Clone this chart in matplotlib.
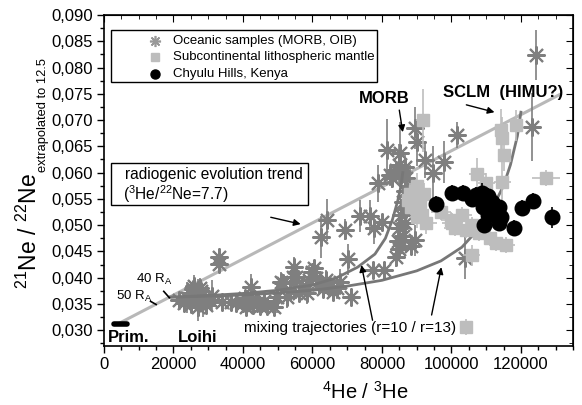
import matplotlib
matplotlib.use("Agg")
import matplotlib.pyplot as plt
from matplotlib.ticker import MultipleLocator, FuncFormatter
from matplotlib.patches import Rectangle

plt.rcParams['font.family'] = ['Liberation Sans', 'DejaVu Sans']
plt.rcParams['mathtext.fontset'] = 'custom'
plt.rcParams['mathtext.rm'] = 'Liberation Sans'
plt.rcParams['mathtext.it'] = 'Liberation Sans:italic'

# ---------------- data ----------------
ocean_x = [21500, 23000, 24000, 25000, 25500, 26000, 26500, 27000, 27500, 28000, 28500, 29000,
           27000, 29500, 30500, 26000, 28000, 25000, 31000, 33000, 33000, 34000, 36500, 38000,
           40000, 41000, 42000, 43000, 44000, 45000, 42500, 46000, 47000, 42200, 40500,
           48900, 49700, 50900, 51500, 52600, 53500, 54300, 55200, 54600, 56000, 57000, 58300,
           59000, 60000, 61000, 62000, 63000, 64000, 65000, 66000, 67000, 68000, 60500, 71000,
           62600, 64300, 69300, 73600, 76600, 77600, 79900, 70100, 77300, 80700,
           84000, 85000, 84500, 86000, 85000, 86500, 85500, 87000, 86000, 87500, 86500, 88000,
           87000, 85500, 86500, 84000, 82200, 78800, 89400, 88500, 83000, 85000,
           81600, 85100, 89400, 90200, 92300, 94600, 98000, 101700, 124400, 123300, 103800]
ocean_y = [0.0358, 0.0352, 0.0362, 0.0370, 0.0378, 0.0365, 0.0372, 0.0358, 0.0380, 0.0368, 0.0355, 0.0362,
           0.0345, 0.0348, 0.0357, 0.0385, 0.0375, 0.0350, 0.0365, 0.0439, 0.0427, 0.0354, 0.0354, 0.0352,
           0.0352, 0.0345, 0.0355, 0.0348, 0.0352, 0.0346, 0.0360, 0.0355, 0.0347, 0.0382, 0.0362,
           0.0344, 0.0363, 0.0391, 0.0390, 0.0363, 0.0375, 0.0401, 0.0401, 0.0420, 0.0370, 0.0385, 0.0370,
           0.0395, 0.0410, 0.0400, 0.0388, 0.0378, 0.0395, 0.0385, 0.0372, 0.0380, 0.0392, 0.0418, 0.0363,
           0.0477, 0.0510, 0.0491, 0.0517, 0.0517, 0.0494, 0.0506, 0.0435, 0.0414, 0.0414,
           0.0440, 0.0455, 0.0470, 0.0480, 0.0495, 0.0505, 0.0520, 0.0530, 0.0545, 0.0555, 0.0565, 0.0575,
           0.0590, 0.0600, 0.0610, 0.0605, 0.0595, 0.0580, 0.0471, 0.0460, 0.0590, 0.0615,
           0.0643, 0.0637, 0.0685, 0.0658, 0.0624, 0.0600, 0.0620, 0.0671, 0.0824, 0.0687, 0.0437]
ocean_yerr = [0.0012, 0.0015, 0.0030, 0.0020, 0.0015, 0.0025, 0.0012, 0.0040, 0.0020, 0.0015, 0.0030, 0.0012,
              0.0020, 0.0015, 0.0012, 0.0020, 0.0015, 0.0012, 0.0030, 0.0012, 0.0012, 0.0012, 0.0012, 0.0012,
              0.0012, 0.0015, 0.0012, 0.0012, 0.0012, 0.0012, 0.0012, 0.0012, 0.0012, 0.0025, 0.0012,
              0.0012, 0.0030, 0.0020, 0.0015, 0.0020, 0.0012, 0.0025, 0.0015, 0.0020, 0.0012, 0.0012, 0.0020,
              0.0030, 0.0015, 0.0020, 0.0012, 0.0012, 0.0020, 0.0012, 0.0012, 0.0020, 0.0025, 0.0015, 0.0015,
              0.0040, 0.0040, 0.0020, 0.0030, 0.0030, 0.0030, 0.0015, 0.0030, 0.0015, 0.0015,
              0.0020, 0.0015, 0.0025, 0.0030, 0.0020, 0.0035, 0.0020, 0.0040, 0.0015, 0.0030, 0.0020, 0.0040,
              0.0030, 0.0025, 0.0030, 0.0015, 0.0020, 0.0035, 0.0030, 0.0015, 0.0020, 0.0040,
              0.0060, 0.0060, 0.0040, 0.0045, 0.0035, 0.0050, 0.0040, 0.0025, 0.0048, 0.0065, 0.0040]

sclm_x = [91700, 114400, 114700, 118700, 115200, 127300, 107500, 110100, 114700, 112900, 115800,
          105800, 104300, 100300, 92800, 90000, 104300, 88000, 89000, 90000, 91000, 88500, 90500,
          92000, 89500, 87500, 91500, 97000, 100000, 103000, 106000, 108000, 101000, 111000]
sclm_y = [0.0700, 0.0681, 0.0666, 0.0690, 0.0633, 0.0590, 0.0597, 0.0580, 0.0582, 0.0466, 0.0462,
          0.0443, 0.0306, 0.0504, 0.0504, 0.0515, 0.0491, 0.0560, 0.0550, 0.0575, 0.0545, 0.0535, 0.0530,
          0.0560, 0.0565, 0.0548, 0.0520, 0.0525, 0.0510, 0.0520, 0.0500, 0.0485, 0.0495, 0.0475]
sclm_yerr = [0.0060, 0.0040, 0.0040, 0.0030, 0.0030, 0.0015, 0.0030, 0.0020, 0.0040, 0.0015, 0.0015,
             0.0020, 0.0015, 0.0020, 0.0020, 0.0020, 0.0015, 0.0020, 0.0015, 0.0025, 0.0015, 0.0015, 0.0015,
             0.0020, 0.0015, 0.0015, 0.0015, 0.0015, 0.0015, 0.0015, 0.0015, 0.0015, 0.0015, 0.0015]
sclm_xerr = [2000, 1500, 1500, 1500, 1500, 4000, 2500, 2500, 2500, 2500, 2500,
             2500, 1000, 3000, 3000, 2000, 3000, 1500, 1500, 1500, 1500, 1500, 1500,
             1500, 1500, 1500, 1500, 3000, 3000, 3000, 3000, 3000, 3000, 3000]

chyulu_x = [95500, 100300, 103200, 107000, 108900, 110500, 111800, 109000, 110500, 113800,
            114400, 113800, 109500, 118000, 120400, 123500, 129000, 106000]
chyulu_y = [0.0540, 0.0561, 0.0561, 0.0558, 0.0561, 0.0555, 0.0545, 0.0534, 0.0520, 0.0535,
            0.0515, 0.0504, 0.0500, 0.0494, 0.0532, 0.0546, 0.0515, 0.0550]
chyulu_yerr = [0.0015, 0.0015, 0.0015, 0.0015, 0.0020, 0.0015, 0.0015, 0.0015, 0.0015, 0.0015,
               0.0015, 0.0015, 0.0015, 0.0015, 0.0015, 0.0015, 0.0020, 0.0015]

radio_x = [4000, 131000]
radio_y = [0.0312, 0.0748]

mix10_x = [19000, 30000, 40000, 50000, 60000, 67000, 73000, 78000, 81000, 83000, 84500, 85500, 86000]
mix10_y = [0.0363, 0.0366, 0.0370, 0.0376, 0.0386, 0.0400, 0.0420, 0.0445, 0.0475, 0.0510, 0.0545, 0.0575, 0.0600]
mix13_x = [19000, 30000, 40000, 50000, 60000, 70000, 80000, 90000, 97000, 103000, 108000, 112000,
           115000, 117000, 119000, 120000]
mix13_y = [0.0363, 0.0365, 0.0367, 0.0371, 0.0376, 0.0384, 0.0395, 0.0413, 0.0432, 0.0458, 0.0494, 0.0535,
           0.0575, 0.0615, 0.0670, 0.0715]

prim_x = [2900, 6600]
prim_y = [0.0311, 0.0311]

x_ticks = [0, 20000, 40000, 60000, 80000, 100000, 120000]
y_ticks = [0.030, 0.035, 0.040, 0.045, 0.050, 0.055, 0.060, 0.065, 0.070, 0.075, 0.080, 0.085, 0.090]

legend_labels = ['Oceanic samples (MORB, OIB)', 'Subcontinental lithospheric mantle', 'Chyulu Hills, Kenya']

# ---------------- figure ----------------
W, H = 582, 405
fig = plt.figure(figsize=(W / 100, H / 100), dpi=100)
AX_L, AX_R, AX_T, AX_B = 104, 573, 15, 346
ax = fig.add_axes([AX_L / W, 1 - AX_B / H, (AX_R - AX_L) / W, (AX_B - AX_T) / H])


def afx(px):
    return (px - AX_L) / (AX_R - AX_L)


def afy(py):
    return (AX_B - py) / (AX_B - AX_T)


OC = '#7f7f7f'
SC = '#bdbdbd'
ast = (8, 2, 0)

ax.plot(radio_x, radio_y, color='#b8b8b8', lw=2.2, zorder=2)
ax.plot(prim_x, prim_y, color='black', lw=4, solid_capstyle='round', zorder=6)

ax.errorbar(ocean_x, ocean_y, yerr=ocean_yerr, fmt='none', ecolor=OC, elinewidth=1.2, capsize=0, zorder=3)
ax.plot(ocean_x, ocean_y, ls='none', marker=ast, ms=13, mew=1.5, color=OC, zorder=3)

ax.plot(mix10_x, mix10_y, color='#777777', lw=2, zorder=4)
ax.plot(mix13_x, mix13_y, color='#777777', lw=2, zorder=4)

ax.errorbar(sclm_x, sclm_y, yerr=sclm_yerr, xerr=sclm_xerr, fmt='none', ecolor=SC, elinewidth=1.2,
            capsize=0, zorder=4)
ax.plot(sclm_x, sclm_y, ls='none', marker='s', ms=8, color=SC, mec=SC, zorder=4)

ax.errorbar(chyulu_x, chyulu_y, yerr=chyulu_yerr, fmt='none', ecolor='black', elinewidth=1.2,
            capsize=0, zorder=5)
ax.plot(chyulu_x, chyulu_y, ls='none', marker='o', ms=10.5, color='black', zorder=5)

ax.set_xlim(0, 135000)
ax.set_ylim(0.027, 0.090)
ax.set_xticks(x_ticks)
ax.set_yticks(y_ticks)
ax.xaxis.set_minor_locator(MultipleLocator(5000))
ax.yaxis.set_minor_locator(MultipleLocator(0.0025))
ax.yaxis.set_major_formatter(FuncFormatter(lambda v, p: f"{v:.3f}".replace('.', ',')))
ax.xaxis.set_major_formatter(FuncFormatter(lambda v, p: f"{int(round(v))}"))
ax.tick_params(which='major', direction='out', length=5, width=1, labelsize=12, pad=3)
ax.tick_params(which='minor', direction='out', length=3, width=1)
for s in ax.spines.values():
    s.set_linewidth(1.2)

secx = ax.secondary_xaxis('top')
secx.set_xticks(x_ticks)
secx.xaxis.set_minor_locator(MultipleLocator(5000))
secx.tick_params(which='major', direction='in', length=5, labeltop=False)
secx.tick_params(which='minor', direction='in', length=3)
secy = ax.secondary_yaxis('right')
secy.set_yticks(y_ticks)
secy.yaxis.set_minor_locator(MultipleLocator(0.0025))
secy.tick_params(which='major', direction='in', length=5, labelright=False)
secy.tick_params(which='minor', direction='in', length=3)

# x label
fig.text(365 / W, 1 - 399 / H, r'$^{4}$He / $^{3}$He', fontsize=14.5, ha='center', va='baseline')

# y label: large main part + small subscript
ymain = fig.text(37 / W, 1 - 289 / H, r'$^{21}$Ne / $^{22}$Ne', fontsize=16.5, rotation=90,
                 rotation_mode='anchor', ha='left', va='baseline')
fig.canvas.draw()
bb = ymain.get_window_extent()
fig.text(46 / W, (bb.y1 + 1) / H, 'extrapolated to 12.5', fontsize=9.3, rotation=90,
         rotation_mode='anchor', ha='left', va='baseline')

# legend (drawn manually)
ax.add_patch(Rectangle((afx(111), afy(82)), afx(377) - afx(111), afy(30) - afy(82),
                       transform=ax.transAxes, fill=False, edgecolor='black', lw=1, zorder=8))
ax.add_patch(Rectangle((afx(111), afy(82)), afx(377) - afx(111), afy(30) - afy(82),
                       transform=ax.transAxes, facecolor='white', edgecolor='none', zorder=7.5))
row_y = [41, 57, 74]
ax.plot([afx(155)], [afy(row_y[0])], transform=ax.transAxes, marker=ast, ms=8, mew=1.2,
        color='#999999', zorder=8)
ax.plot([afx(155)], [afy(row_y[1])], transform=ax.transAxes, marker='s', ms=6, color=SC, zorder=8)
ax.plot([afx(155)], [afy(row_y[2])], transform=ax.transAxes, marker='o', ms=6.5, color='black', zorder=8)
for lab, ry in zip(legend_labels, row_y):
    ax.text(afx(173), afy(ry), lab, transform=ax.transAxes, fontsize=9.5, ha='left', va='center', zorder=8)

# radiogenic box
ax.add_patch(Rectangle((afx(111), afy(205)), afx(308) - afx(111), afy(163) - afy(205),
                       transform=ax.transAxes, fill=False, edgecolor='black', lw=1, zorder=7))
ax.text(afx(125), afy(174), 'radiogenic evolution trend', transform=ax.transAxes, fontsize=11.2,
        va='center', ha='left', zorder=7)
ax.text(afx(123), afy(194), r'($^{3}$He/$^{22}$Ne=7.7)', transform=ax.transAxes, fontsize=11.2,
        va='center', ha='left', zorder=7)

arr = dict(arrowstyle='-|>', color='black', lw=1, mutation_scale=10, shrinkA=0, shrinkB=0)
ax.annotate('', xy=(56600, 0.0502), xytext=(48000, 0.0515), arrowprops=arr, zorder=7)

ax.text(80800, 0.0742, 'MORB', fontsize=12, fontweight='bold', ha='center', va='center', zorder=7)
ax.annotate('', xy=(86000, 0.0677), xytext=(85000, 0.0719), arrowprops=arr, zorder=7)
ax.text(115000, 0.0753, 'SCLM  (HIMU?)', fontsize=12, fontweight='bold', ha='center', va='center', zorder=7)
ax.annotate('', xy=(112400, 0.0715), xytext=(104300, 0.0729), arrowprops=arr, zorder=7)

ax.text(1000, 0.0286, 'Prim.', fontsize=12, fontweight='bold', ha='left', va='center', zorder=7)
ax.text(27000, 0.0286, 'Loihi', fontsize=12, fontweight='bold', ha='center', va='center', zorder=7)
ax.text(70700, 0.0305, 'mixing trajectories (r=10 / r=13)', fontsize=11, ha='center', va='center', zorder=7)
ax.annotate('', xy=(74100, 0.0424), xytext=(77300, 0.0319), arrowprops=arr, zorder=7)
ax.annotate('', xy=(97100, 0.0420), xytext=(94300, 0.0329), arrowprops=arr, zorder=7)

ax.text(14400, 0.0397, r'40 R$_{\mathregular{A}}$', fontsize=9.5, ha='center', va='center', zorder=7)
ax.text(8600, 0.0364, r'50 R$_{\mathregular{A}}$', fontsize=9.5, ha='center', va='center', zorder=7)
ax.plot([17200, 18800], [0.0374, 0.0362], color='black', lw=1.2, zorder=7)
ax.plot([13400, 15000], [0.0355, 0.0349], color='black', lw=1.2, zorder=7)

fig.savefig('out.png', dpi=100)
